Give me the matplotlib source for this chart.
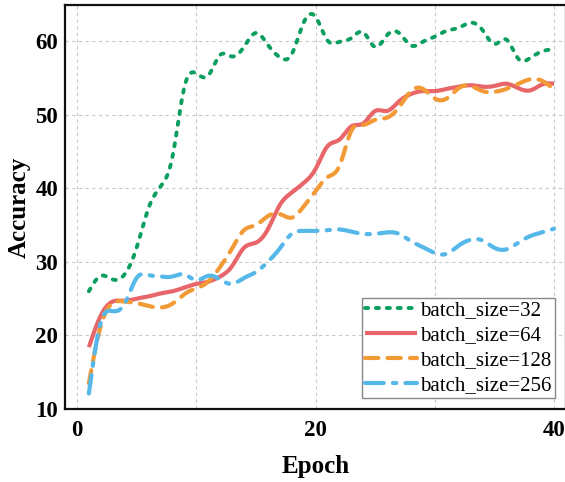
import numpy as np
import matplotlib
matplotlib.use("Agg")
import matplotlib.pyplot as plt

plt.rcParams['font.family'] = ['Liberation Serif', 'DejaVu Serif']

epochs = list(range(1, 41))
acc_bs32 = [26.0, 28.1, 27.6, 28.3, 31.9, 37.3, 40.2, 44.2, 53.7, 55.6,
            55.3, 58.1, 57.9, 59.2, 61.1, 59.5, 57.8, 58.2, 62.5, 63.3,
            60.1, 59.9, 60.4, 61.2, 59.2, 60.8, 61.1, 59.4, 59.9, 60.6,
            61.4, 61.8, 62.5, 61.5, 59.6, 60.2, 57.6, 57.7, 58.6, 58.9]
acc_bs64 = [18.4, 22.7, 24.6, 24.7, 25.0, 25.3, 25.7, 26.0, 26.5, 27.0,
            27.3, 28.0, 29.4, 31.9, 32.6, 34.4, 37.7, 39.4, 40.7, 42.6,
            45.7, 46.6, 48.4, 48.8, 50.5, 50.5, 51.8, 52.8, 53.2, 53.2,
            53.5, 53.8, 54.0, 53.8, 53.9, 54.2, 53.6, 53.3, 54.1, 54.2]
acc_bs128 = [13.5, 21.3, 24.4, 24.6, 24.4, 24.0, 23.8, 24.3, 25.6, 26.4,
             27.3, 29.3, 31.8, 34.3, 35.0, 36.2, 36.5, 36.0, 37.5, 39.6,
             41.5, 43.0, 47.8, 48.6, 49.3, 49.6, 51.0, 53.2, 53.5, 52.2,
             52.2, 53.6, 53.9, 53.2, 53.1, 53.5, 54.2, 54.8, 54.6, 53.4]
acc_bs256 = [12.1, 21.8, 23.3, 24.3, 27.8, 28.2, 28.0, 28.0, 28.3, 27.5,
             28.1, 27.6, 27.0, 27.8, 28.6, 30.0, 31.8, 33.8, 34.2, 34.2,
             34.3, 34.4, 34.1, 33.8, 33.8, 34.0, 33.8, 32.8, 32.0, 31.2,
             31.1, 32.2, 33.0, 32.9, 31.9, 31.7, 32.6, 33.5, 34.0, 34.5]
labels = ['batch_size=32', 'batch_size=64', 'batch_size=128', 'batch_size=256']
x_ticks = [0, 10, 20, 30, 40]
x_ticklabels = ['0', '', '20', '', '40']
y_ticks = [10, 20, 30, 40, 50, 60]


def natural_spline(x, y, n=600):
    x = np.asarray(x, float)
    y = np.asarray(y, float)
    m = len(x)
    h = np.diff(x)
    A = np.zeros((m, m))
    b = np.zeros(m)
    A[0, 0] = 1
    A[-1, -1] = 1
    for i in range(1, m - 1):
        A[i, i - 1] = h[i - 1]
        A[i, i] = 2 * (h[i - 1] + h[i])
        A[i, i + 1] = h[i]
        b[i] = 3 * ((y[i + 1] - y[i]) / h[i] - (y[i] - y[i - 1]) / h[i - 1])
    c = np.linalg.solve(A, b)
    bb = (np.diff(y) / h) - h * (2 * c[:-1] + c[1:]) / 3
    d = (c[1:] - c[:-1]) / (3 * h)
    xs = np.linspace(x[0], x[-1], n)
    idx = np.clip(np.searchsorted(x, xs) - 1, 0, m - 2)
    dx = xs - x[idx]
    ys = y[idx] + bb[idx] * dx + c[idx] * dx ** 2 + d[idx] * dx ** 3
    return xs, ys


fig = plt.figure(figsize=(5.65, 4.82), dpi=100)
ax = fig.add_axes([65 / 565, 73 / 482, 501 / 565, 404 / 482])

styles = [
    dict(color='#0A9E5F', linestyle=(0, (0.8, 2.0)), linewidth=2.8),
    dict(color='#E8666A', linestyle='-', linewidth=3.0),
    dict(color='#F29A35', linestyle=(0, (3.2, 2.2)), linewidth=3.0),
    dict(color='#56B8E8', linestyle=(0, (4.5, 2.2, 0.8, 2.2)), linewidth=3.0),
]
for data, lab, st in zip([acc_bs32, acc_bs64, acc_bs128, acc_bs256], labels, styles):
    xs, ys = natural_spline(epochs, data)
    ax.plot(xs, ys, label=lab, dash_capstyle='round', solid_capstyle='butt', **st)

ax.set_xlim(-1, 41)
ax.set_ylim(10, 64.9)
ax.set_xticks(x_ticks)
ax.set_xticklabels(x_ticklabels)
ax.set_yticks(y_ticks)
ax.tick_params(length=0, labelsize=16.5)
ax.tick_params(axis='y', pad=5)
ax.tick_params(axis='x', pad=8)
for t in ax.get_xticklabels() + ax.get_yticklabels():
    t.set_fontweight('bold')
ax.grid(True, linestyle=(0, (3, 3)), color='#c8c8c8', linewidth=0.8)
ax.set_axisbelow(True)
for s in ax.spines.values():
    s.set_linewidth(1.6)
    s.set_color('#111111')

ax.set_xlabel('Epoch', fontsize=18, fontweight='bold', labelpad=10)
ax.set_ylabel('Accuracy', fontsize=18, fontweight='bold', labelpad=3)

leg = ax.legend(loc='lower right', bbox_to_anchor=(0.978, 0.027), fontsize=15,
                frameon=True, fancybox=False, edgecolor='#888888', framealpha=1,
                handlelength=2.5, handletextpad=0.15, borderpad=0.15,
                labelspacing=0.25, borderaxespad=0.0)
leg.get_frame().set_linewidth(1.0)

fig.savefig('out.png', dpi=100)
